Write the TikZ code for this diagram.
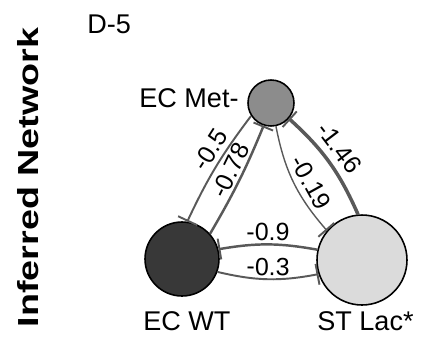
\documentclass[tikz,border=0pt]{standalone}
\usepackage{fontspec}
\setmainfont{Liberation Sans}
\usetikzlibrary{arrows.meta}
\begin{document}
\begin{tikzpicture}[x=0.02cm,y=-0.02cm,>={Bar[width=12pt,line width=1.1pt]},
  sp/.style={circle,draw=black,line width=0.9pt,inner sep=0pt},
  nm/.style={anchor=base west,inner sep=0pt,font=\fontsize{15.4}{18}\selectfont},
  inh/.style={draw=black!65},
  lab/.style={font=\fontsize{14.2}{17}\selectfont,sloped,midway,above,inner sep=1.5pt,text=black}]
  \useasboundingbox (0,0) rectangle (436,339);
  \node[rotate=90,anchor=base,inner sep=0pt,font=\fontsize{16.5}{20}\selectfont\bfseries] (title) at (38,177.5) {\scalebox{1.3}[1]{Inferred Network}};
  \node[nm] (panel) at (87,33) {D-5};
  \node[sp,fill=black!45,minimum size=0.92cm] (met) at (271,103) {};
  \node[sp,fill=black!78,minimum size=1.48cm] (ecwt) at (182,259) {};
  \node[sp,fill=black!14,minimum size=1.8cm] (stlac) at (362,260) {};
  \node[nm] (metlab) at (139,107) {EC Met-};
  \node[nm] (wtlab) at (143,330) {EC WT};
  \node[nm] (laclab) at (317,330) {ST Lac*};
  \draw[inh,<-,bend left=6,line width=1.1pt] (ecwt.82) to node[lab,pos=.6,inner sep=2.5pt] (e1) {-0.5} (met.213);
  \draw[inh,->,bend right=4,line width=1.4pt] (ecwt.42) to node[lab,pos=.55] (e2) {-0.78} (met.252);
  \draw[inh,->,bend right=15,line width=0.8pt] (met.282) to node[lab,pos=.58,inner sep=3.5pt] (e3) {-0.19} (stlac.140);
  \draw[inh,<-,bend left=12,line width=2pt] (met.319) to node[lab,pos=.45,inner sep=3.5pt] (e4) {-1.46} (stlac.95);
  \draw[inh,<-,bend left=10,line width=1.4pt] (ecwt.15) to node[lab] (e5) {-0.9} (stlac.167);
  \draw[inh,->,bend right=12,line width=1.1pt] (ecwt.-20) to node[lab] (e6) {-0.3} (stlac.198);
\end{tikzpicture}
\end{document}
